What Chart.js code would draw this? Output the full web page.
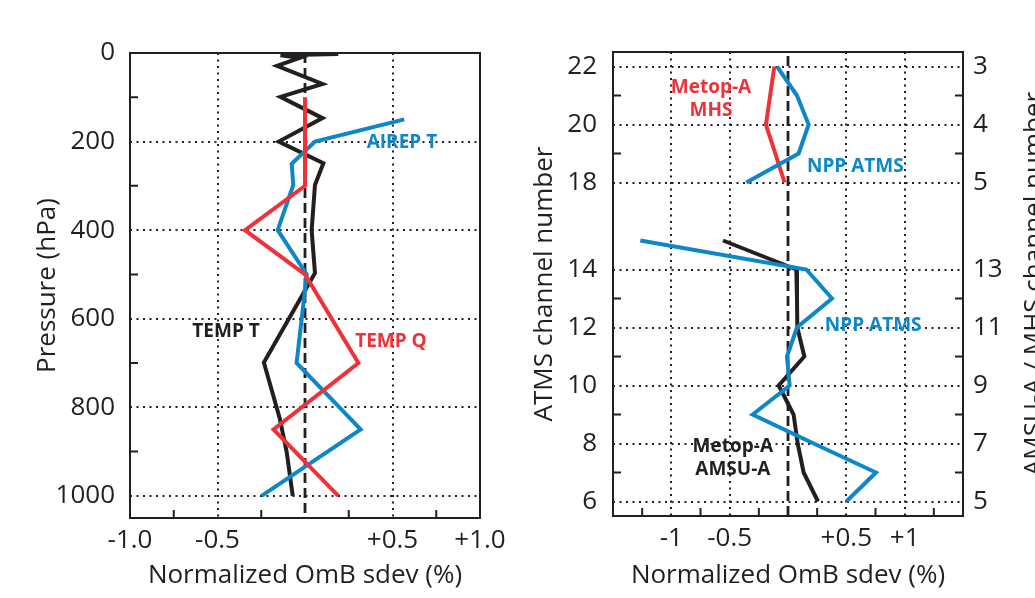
<!DOCTYPE html>
<html><head><meta charset="utf-8">
<script src="https://cdn.jsdelivr.net/npm/chart.js@4.4.1/dist/chart.umd.min.js"></script>
<style>
html,body{margin:0;padding:0;background:#fff;width:1035px;height:598px;overflow:hidden;}
#l{position:absolute;left:0;top:0;}
#r{position:absolute;left:517px;top:0;}
</style></head><body>
<canvas id="l" width="517" height="598"></canvas>
<canvas id="r" width="518" height="598"></canvas>
<script>
// ---------- Left panel: conventional observations ----------
const TEMP_T_P = [2, 5, 11, 29, 70, 99, 147, 200, 249, 298, 400, 497, 699, 824, 900, 1000];
const TEMP_T_V = [0.19, -0.14, -0.03, -0.16, 0.10, -0.14, 0.10, -0.15, 0.105, 0.057, 0.038, 0.057, -0.235, -0.145, -0.105, -0.07];
const AIREP_T_P = [150, 200, 250, 298, 400, 500, 700, 850, 1000];
const AIREP_T_V = [0.567, 0.057, -0.076, -0.067, -0.156, 0.01, -0.048, 0.318, -0.248];
const TEMP_Q_P = [100, 300, 400, 500, 700, 850, 1000];
const TEMP_Q_V = [0, 0, -0.343, 0, 0.305, -0.18, 0.19];
const L_ZERO_X = [0, 0];
const L_ZERO_P = [0, 1050];
const L_X_TICKS = [-1, -0.5, 0.5, 1];
const L_X_LABELS = ['-1.0', '-0.5', '+0.5', '+1.0'];
const L_X_MINOR = [-0.75, -0.25, 0.25, 0.75];
const L_Y_TICKS = [0, 200, 400, 600, 800, 1000];
const L_Y_MINOR = [100, 300, 500, 700, 900];

// ---------- Right panel: satellite radiances ----------
const ATMS_UP_CH = [22, 21, 20, 19, 18];
const ATMS_UP_V = [-0.094, 0.077, 0.177, 0.091, -0.357];
const ATMS_LOW_CH = [15, 14, 13, 12, 11, 10, 9, 8, 7, 6];
const ATMS_LOW_V = [-1.266, 0.157, 0.377, 0.077, -0.009, 0.014, -0.303, 0.22, 0.754, 0.5];
const AMSUA_CH = [15, 14, 13, 12, 11, 10, 9, 8, 7, 6];
const AMSUA_V = [-0.557, 0.071, 0.077, 0.08, 0.14, -0.08, 0.048, 0.083, 0.134, 0.257];
const MHS_CH = [22, 20, 18];
const MHS_V = [-0.117, -0.189, -0.029];
const R_ZERO_X = [0, 0];
const R_ZERO_U = [5.5, 21.5];
const R_X_TICKS = [-1, -0.5, 0.5, 1];
const R_X_LABELS = ['-1', '-0.5', '+0.5', '+1'];
const R_X_MINOR = [-1.25, -0.75, -0.25, 0.25, 0.75, 1.25];
const ATMS_TICKS = [6, 8, 10, 12, 14, 18, 20, 22];
const AMSU_MHS_TICKS = [5, 7, 9, 11, 13, 5, 4, 3];
const R_Y_MINOR = [7, 9, 11, 13, 19, 21];

const INK = '#231f20', BLUE = '#0d87c9', RED = '#ee3238';
const FONT = "'Open Sans', sans-serif";

// broken channel axis: channels 16-17 are not plotted
function chanPos(ch) { return ch >= 18 ? ch - 1 : ch; }
function pts(xs, ys) { return xs.map((x, i) => ({x: x, y: ys[i]})); }
function chanPts(vals, chans) { return vals.map((v, i) => ({x: v, y: chanPos(chans[i])})); }

const lineBase = {pointRadius: 0, tension: 0, fill: false, showLine: true, borderJoinStyle: 'miter', borderCapStyle: 'butt'};
const LW = 4;

const framePlugin = {
  id: 'frame',
  beforeDatasetsDraw(chart, args, o) {
    const {ctx, chartArea: a, scales} = chart;
    ctx.save();
    ctx.strokeStyle = INK; ctx.lineWidth = 2;
    ctx.strokeRect(a.left, a.top, a.width, a.height);
    const L = 8;
    ctx.beginPath();
    (o.xMinor || []).forEach(v => { const p = scales.x.getPixelForValue(v); ctx.moveTo(p, a.bottom); ctx.lineTo(p, a.bottom - L); });
    (o.yMinor || []).forEach(v => {
      const p = scales.y.getPixelForValue(v);
      ctx.moveTo(a.left, p); ctx.lineTo(a.left + L, p);
      if (o.mirror) { ctx.moveTo(a.right, p); ctx.lineTo(a.right - L, p); }
    });
    ctx.stroke();
    ctx.restore();
  },
  afterDatasetsDraw(chart, args, o) {
    const {ctx, chartArea: a, scales} = chart;
    ctx.save();
    ctx.textAlign = 'center'; ctx.textBaseline = 'middle';
    ctx.font = 'bold 19px ' + FONT;
    (o.notes || []).forEach(n => {
      const px = scales.x.getPixelForValue(n.x), py = scales.y.getPixelForValue(n.y);
      ctx.fillStyle = n.color;
      const gap = 23, k = n.text.length;
      n.text.forEach((t, i) => ctx.fillText(t, px, py + (i - (k - 1) / 2) * gap));
    });
    if (o.vTitle) {
      ctx.font = '26px ' + FONT; ctx.fillStyle = INK;
      ctx.translate(chart.width + o.vTitle.dx, (a.top + a.bottom) / 2);
      ctx.rotate(-Math.PI / 2);
      ctx.fillText(o.vTitle.text, 0, 0);
    }
    ctx.restore();
  }
};
Chart.register(framePlugin);

const tickFont = {family: FONT, size: 26};
const clear = 'rgba(0,0,0,0)';

new Chart(document.getElementById('l'), {
  type: 'scatter',
  data: {datasets: [
    Object.assign({}, lineBase, {data: pts(L_ZERO_X, L_ZERO_P), borderColor: INK, borderWidth: 2.8, borderDash: [10, 5], order: 4}),
    Object.assign({}, lineBase, {label: 'TEMP T', data: pts(TEMP_T_V, TEMP_T_P), borderColor: INK, borderWidth: LW, order: 3}),
    Object.assign({}, lineBase, {label: 'AIREP T', data: pts(AIREP_T_V, AIREP_T_P), borderColor: BLUE, borderWidth: LW, order: 2}),
    Object.assign({}, lineBase, {label: 'TEMP Q', data: pts(TEMP_Q_V, TEMP_Q_P), borderColor: RED, borderWidth: LW, order: 1})
  ]},
  options: {
    responsive: false, animation: false, devicePixelRatio: 1,
    layout: {padding: {left: 0, top: 53, right: 37, bottom: 0}},
    plugins: {
      legend: {display: false}, tooltip: {enabled: false},
      frame: {xMinor: L_X_MINOR, yMinor: L_Y_MINOR, mirror: false, notes: [
        {text: ['AIREP T'], x: 0.554, y: 203, color: BLUE},
        {text: ['TEMP T'], x: -0.451, y: 630, color: INK},
        {text: ['TEMP Q'], x: 0.491, y: 652, color: RED}
      ]}
    },
    scales: {
      x: {type: 'linear', min: -1, max: 1,
        afterBuildTicks: s => { s.ticks = L_X_TICKS.map(v => ({value: v})); },
        afterFit: s => { s.height = 80; },
        ticks: {autoSkip: false, maxRotation: 0, padding: 7, color: INK, font: tickFont, callback: (v, i) => L_X_LABELS[i]},
        grid: {drawTicks: false, lineWidth: 2, color: c => (c.tick && Math.abs(c.tick.value) === 0.5) ? INK : clear},
        border: {display: false, dash: [2, 4.5]},
        title: {display: true, text: 'Normalized OmB sdev (%)', color: INK, font: tickFont, padding: {top: 0, bottom: 7}}
      },
      y: {type: 'linear', reverse: true, min: 0, max: 1050,
        afterBuildTicks: s => { s.ticks = L_Y_TICKS.map(v => ({value: v})); },
        afterFit: s => { s.width = 130; },
        ticks: {autoSkip: false, padding: 15, color: INK, font: tickFont, callback: v => String(v)},
        grid: {drawTicks: false, lineWidth: 2, color: c => (c.tick && c.tick.value > 0) ? INK : clear},
        border: {display: false, dash: [2, 4.5]},
        title: {display: true, text: 'Pressure (hPa)', color: INK, font: tickFont, padding: {top: 32, bottom: 0}}
      }
    }
  }
});

new Chart(document.getElementById('r'), {
  type: 'scatter',
  data: {datasets: [
    Object.assign({}, lineBase, {data: pts(R_ZERO_X, R_ZERO_U), borderColor: INK, borderWidth: 2.8, borderDash: [10, 5], order: 5}),
    Object.assign({}, lineBase, {label: 'Metop-A AMSU-A', data: chanPts(AMSUA_V, AMSUA_CH), borderColor: INK, borderWidth: LW, order: 4}),
    Object.assign({}, lineBase, {label: 'Metop-A MHS', data: chanPts(MHS_V, MHS_CH), borderColor: RED, borderWidth: LW, order: 3}),
    Object.assign({}, lineBase, {label: 'NPP ATMS', data: chanPts(ATMS_UP_V, ATMS_UP_CH), borderColor: BLUE, borderWidth: LW, order: 2}),
    Object.assign({}, lineBase, {label: 'NPP ATMS', data: chanPts(ATMS_LOW_V, ATMS_LOW_CH), borderColor: BLUE, borderWidth: LW, order: 1})
  ]},
  options: {
    responsive: false, animation: false, devicePixelRatio: 1,
    layout: {padding: {left: 0, top: 52, right: 0, bottom: 0}},
    plugins: {
      legend: {display: false}, tooltip: {enabled: false},
      frame: {xMinor: R_X_MINOR, yMinor: R_Y_MINOR.map(chanPos), mirror: true,
        vTitle: {text: 'AMSU-A / MHS channel number', dx: 0},
        notes: [
          {text: ['Metop-A', 'MHS'], x: -0.66, y: 19.88, color: RED},
          {text: ['NPP ATMS'], x: 0.577, y: 17.56, color: BLUE},
          {text: ['NPP ATMS'], x: 0.73, y: 12.05, color: BLUE},
          {text: ['Metop-A', 'AMSU-A'], x: -0.473, y: 7.48, color: INK}
        ]}
    },
    scales: {
      x: {type: 'linear', min: -1.5, max: 1.5,
        afterBuildTicks: s => { s.ticks = R_X_TICKS.map(v => ({value: v})); },
        afterFit: s => { s.height = 82; },
        ticks: {autoSkip: false, maxRotation: 0, padding: 7, color: INK, font: tickFont, callback: (v, i) => R_X_LABELS[i]},
        grid: {drawTicks: false, lineWidth: 2, color: INK},
        border: {display: false, dash: [2, 4.5]},
        title: {display: true, text: 'Normalized OmB sdev (%)', color: INK, font: tickFont, padding: {top: 0, bottom: 7}}
      },
      y: {type: 'linear', position: 'left', min: 5.5, max: 21.5,
        afterBuildTicks: s => { s.ticks = ATMS_TICKS.map(c => ({value: chanPos(c)})); },
        afterFit: s => { s.width = 96; },
        ticks: {autoSkip: false, padding: 16, color: INK, font: tickFont, callback: (v, i) => String(ATMS_TICKS[i])},
        grid: {drawTicks: false, lineWidth: 2, color: INK},
        border: {display: false, dash: [2, 4.5]},
        title: {display: true, text: 'ATMS channel number', color: INK, font: tickFont, padding: {top: 12, bottom: 0}}
      },
      y2: {type: 'linear', position: 'right', min: 5.5, max: 21.5,
        afterBuildTicks: s => { s.ticks = AMSU_MHS_TICKS.map((c, i) => ({value: chanPos(ATMS_TICKS[i])})); },
        afterFit: s => { s.width = 72; },
        ticks: {autoSkip: false, padding: 10, color: INK, font: tickFont, callback: (v, i) => String(AMSU_MHS_TICKS[i])},
        grid: {display: false, drawTicks: false, drawOnChartArea: false},
        border: {display: false}
      }
    }
  }
});
</script>
</body></html>
